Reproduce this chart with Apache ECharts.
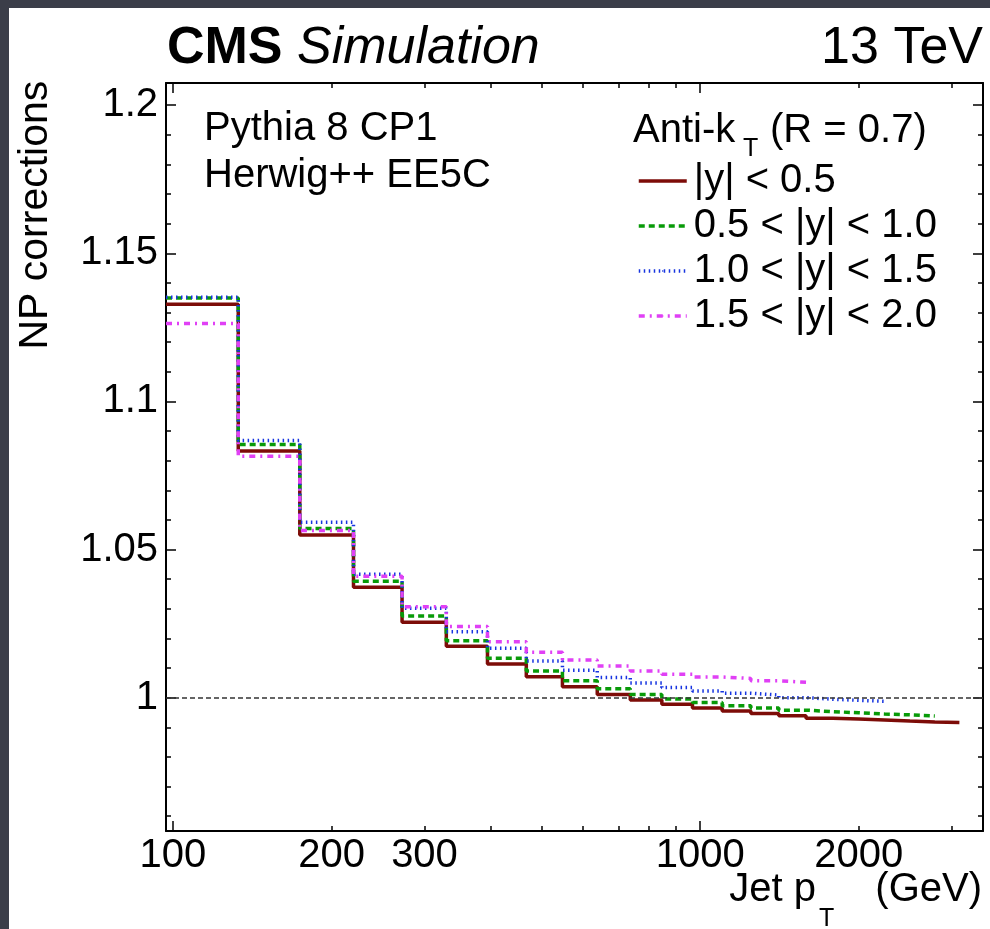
<!DOCTYPE html>
<html>
<head>
<meta charset="utf-8">
<script src="https://cdn.jsdelivr.net/npm/echarts@6/dist/echarts.min.js"></script>
<style>
  html, body { margin: 0; padding: 0; background: #3b3e49; }
  #chart { position: absolute; left: 9px; top: 8px; width: 981px; height: 921px; background: #fff; }
</style>
</head>
<body>
<div id="chart"></div>
<script>
// jet pT bin edges (GeV)
const ptEdges = [97, 133, 174, 220, 272, 330, 395, 468, 548, 638, 737, 846, 967,
    1101, 1248, 1410, 1588, 1784, 2000, 2238, 2500, 2787, 3103];

// NP corrections per rapidity bin
const npY05 = [1.1328, 1.0833, 1.0549, 1.0373, 1.0255, 1.0174, 1.0114, 1.0071, 1.0037, 1.0011, 0.9992,
    0.9978, 0.9965, 0.9955, 0.9947, 0.9939, 0.9931, 0.9928, 0.9925, 0.9921, 0.9918, 0.9916];
const npY10 = [1.1349, 1.0855, 1.0571, 1.0393, 1.0276, 1.0192, 1.0133, 1.0090, 1.0057, 1.0030, 1.0011,
    0.9996, 0.9984, 0.9973, 0.9965, 0.9958, 0.9953, 0.9949, 0.9945, 0.9942, 0.9938];
const npY15 = [1.1352, 1.0868, 1.0592, 1.0417, 1.0302, 1.0223, 1.0167, 1.0124, 1.0093, 1.0068, 1.0050,
    1.0034, 1.0023, 1.0015, 1.0009, 1.0000, 0.9995, 0.9991, 0.9988];
const npY20 = [1.1263, 1.0815, 1.0564, 1.0410, 1.0307, 1.0240, 1.0189, 1.0153, 1.0127, 1.0107, 1.0090,
    1.0079, 1.0070, 1.0065, 1.0057, 1.0052];

const seriesNames = ['|y| < 0.5', '0.5 < |y| < 1.0', '1.0 < |y| < 1.5', '1.5 < |y| < 2.0'];

// ticks
const yMajorTicks = [1, 1.05, 1.1, 1.15, 1.2];
const yMinorTicks = [0.96, 0.97, 0.98, 0.99, 1.01, 1.02, 1.03, 1.04, 1.06, 1.07, 1.08, 1.09,
    1.11, 1.12, 1.13, 1.14, 1.16, 1.17, 1.18, 1.19];
const xLabelTicks = [100, 200, 300, 1000, 2000];
const xMajorTicks = [100, 1000];
const xMinorTicks = [200, 300, 400, 500, 600, 700, 800, 900, 2000, 3000];

const FONT = '"Liberation Sans", Arial, Helvetica, sans-serif';
const X_MIN = 97, X_MAX = 3440;
const Y_MIN = 0.955, Y_MAX = 1.2075;

// histogram -> step points (last edge closes the last bin)
function stepData(values) {
    let pts = values.map((v, i) => [ptEdges[i], v]);
    pts.push([ptEdges[values.length], values[values.length - 1]]);
    return pts;
}

// overlay axis on log10 scale, only used for ticks / labels
function xTickAxis(position, ticks, len, labels) {
    return {
        type: 'value',
        position: position,
        min: Math.log10(X_MIN),
        max: Math.log10(X_MAX),
        axisLine: {show: false, onZero: false},
        splitLine: {show: false},
        axisTick: {
            show: true, inside: true, length: len,
            customValues: ticks.map(Math.log10),
            lineStyle: {color: '#000', width: 1.5}
        },
        axisLabel: {
            show: !!labels,
            customValues: labels ? labels.map(Math.log10) : undefined,
            formatter: v => String(Math.round(Math.pow(10, v))),
            margin: 5,
            fontSize: 40,
            fontFamily: FONT,
            color: '#000'
        }
    };
}

function yTickAxis(position, ticks, len, labels, line) {
    return {
        type: 'value',
        position: position,
        min: Y_MIN,
        max: Y_MAX,
        axisLine: {show: !!line, onZero: false, lineStyle: {color: '#000', width: 2}},
        splitLine: {show: false},
        axisTick: {
            show: true, inside: true, length: len,
            customValues: ticks,
            lineStyle: {color: '#000', width: 1.5}
        },
        axisLabel: {
            show: !!labels,
            customValues: labels || undefined,
            margin: 8,
            fontSize: 40,
            fontFamily: FONT,
            color: '#000'
        }
    };
}

function histSeries(name, values, color, dash) {
    return {
        name: name,
        type: 'line',
        step: 'end',
        symbol: 'none',
        data: stepData(values),
        itemStyle: {color: color},
        lineStyle: {color: color, width: 3.5, type: dash},
        emphasis: {disabled: true}
    };
}

function txt(x, y, text, size, extra) {
    return {
        type: 'text', x: x, y: y, silent: true,
        style: Object.assign({
            text: text,
            font: size + 'px ' + FONT,
            fill: '#000',
            align: 'left',
            verticalAlign: 'middle'
        }, extra || {})
    };
}

let chart = echarts.init(document.getElementById('chart'));
let brown = histSeries(seriesNames[0], npY05, '#7d0c08', 'solid');
brown.markLine = {
    silent: true,
    symbol: 'none',
    label: {show: false},
    lineStyle: {color: '#333', width: 1.5, type: [5, 3]},
    data: [{yAxis: 1}]
};

let option = {
    animation: false,
    grid: {left: 157, top: 75, right: 7, bottom: 98, containLabel: false, outerBoundsMode: 'none'},
    xAxis: [
        {
            type: 'log',
            logBase: 10,
            min: X_MIN,
            max: X_MAX,
            position: 'bottom',
            axisLine: {show: true, onZero: false, lineStyle: {color: '#000', width: 2}},
            axisTick: {show: false},
            axisLabel: {show: false},
            splitLine: {show: false}
        },
        xTickAxis('bottom', xMajorTicks, 10, xLabelTicks),
        xTickAxis('bottom', xMinorTicks, 5),
        Object.assign(xTickAxis('top', xMajorTicks, 10), {axisLine: {show: true, onZero: false, lineStyle: {color: '#000', width: 2}}}),
        xTickAxis('top', xMinorTicks, 5)
    ],
    yAxis: [
        yTickAxis('left', yMajorTicks, 10, yMajorTicks, true),
        yTickAxis('left', yMinorTicks, 5),
        yTickAxis('right', yMajorTicks, 10, null, true),
        yTickAxis('right', yMinorTicks, 5)
    ],
    legend: {
        left: 628,
        top: 151,
        padding: 0,
        orient: 'vertical',
        itemWidth: 48,
        itemHeight: 2,
        itemGap: 1,
        selectedMode: false,
        lineStyle: {width: 3.5},
        textStyle: {fontSize: 40, fontFamily: FONT, color: '#000', lineHeight: 36, padding: [0, 0, 8, 2]},
        data: seriesNames
    },
    series: [
        brown,
        histSeries(seriesNames[1], npY10, '#089a08', [6, 4]),
        histSeries(seriesNames[2], npY15, '#1634e0', [1.5, 3.5]),
        histSeries(seriesNames[3], npY20, '#e040f5', [6, 5, 2, 5])
    ],
    graphic: [
        txt(158, 40.5, '{b|CMS} {i|Simulation}', 52, {
            rich: {
                b: {fontWeight: 'bold', fontSize: 52, fontFamily: FONT},
                i: {fontStyle: 'italic', fontSize: 52, fontFamily: FONT}
            }
        }),
        txt(974, 40.5, '13 TeV', 52, {align: 'right'}),
        txt(195, 121, 'Pythia 8 CP1', 40),
        txt(195, 167.5, 'Herwig++ EE5C', 40),
        txt(624, 123, 'Anti-k', 40),
        txt(734, 141, 'T', 25),
        txt(761, 123, '(R = 0.7)', 40),
        txt(973, 882, '(GeV)', 40, {align: 'right'}),
        txt(807, 882, 'Jet p', 40, {align: 'right'}),
        txt(810, 911, 'T', 25),
        {
            type: 'text', x: 27, y: 72.7, rotation: Math.PI / 2, silent: true,
            style: {text: 'NP corrections', font: '41px ' + FONT, fill: '#000', align: 'right', verticalAlign: 'middle'}
        }
    ]
};
chart.setOption(option);
</script>
</body>
</html>
